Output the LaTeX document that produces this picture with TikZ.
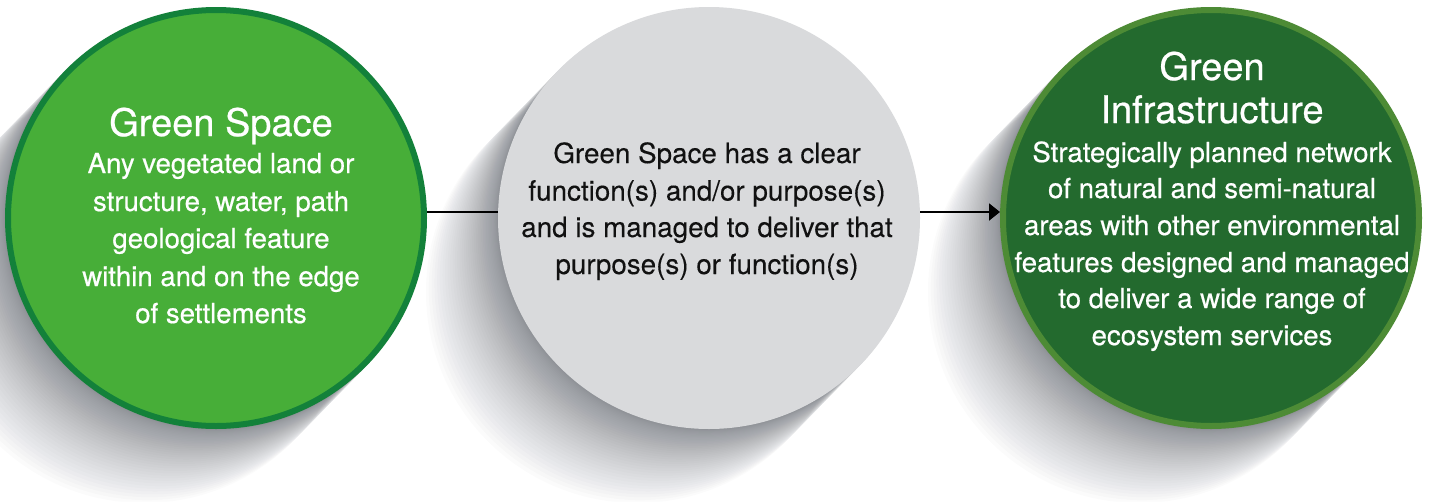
\documentclass[tikz,border=0pt]{standalone}
\usepackage{fontspec}
\setmainfont{TeX Gyre Heros}
\newfontfamily\heavyish{TeX Gyre Heros}[FakeBold=0.6]
\newfontfamily\lightish{TeX Gyre Heros}[FakeBold=0.2]
\usetikzlibrary{arrows.meta}
\definecolor{gsfill}{RGB}{71,174,56}
\definecolor{gsborder}{RGB}{19,129,58}
\definecolor{gifill}{RGB}{35,106,46}
\definecolor{giborder}{RGB}{77,139,53}
\definecolor{midgray}{RGB}{217,218,220}
\definecolor{inktext}{RGB}{17,17,17}
\definecolor{shadowink}{RGB}{40,46,56}
\begin{document}
\begin{tikzpicture}[x=1pt,y=-1pt,
  whitebody/.style={anchor=base, inner sep=0pt, text=white, font=\heavyish\fontsize{27.6}{34}\selectfont},
  whitetitle/.style={anchor=base, inner sep=0pt, text=white, font=\heavyish\fontsize{38}{44}\selectfont},
  darkbody/.style={anchor=base, inner sep=0pt, text=inktext, font=\lightish\fontsize{27.8}{34}\selectfont},
  shadowdisc/.style={fill=shadowink, fill opacity=0.014},
  ringnode/.style={circle, minimum size=416pt, inner sep=0pt, line width=6pt},
  connector/.style={line width=2pt, draw=black}]
\useasboundingbox (0,0) rectangle (1430,501);
\fill[white] (0,0) rectangle (1430,501);
% soft cast shadows, denser near the discs
\foreach \cx in {216,709,1211}{
  \foreach \k in {1,...,40}{
    \pgfmathsetmacro{\f}{(\k/40)^1.6}
    \fill[shadowdisc] ({\cx-72*\f},{218+74*\f}) circle[radius=211pt];
  }
}
% circles
\node[ringnode, fill=gsfill, draw=gsborder] (gs) at (216,218) {};
\node[circle, minimum size=422pt, inner sep=0pt, fill=midgray] (mid) at (709,218) {};
\node[ringnode, fill=gifill, draw=giborder] (gi) at (1211,218) {};
% connectors
\draw[connector] ([yshift=6pt]gs.east) -- ([yshift=6pt]mid.west);
\draw[connector, -{Triangle[length=11pt,width=17pt]}] ([yshift=6pt]mid.east) -- ([yshift=6pt]gi.west);
% left texts
\node[whitetitle] (gsT) at (221,136) {Green Space};
\node[whitebody] (gs1) at (221,173) {Any vegetated land or};
\node[whitebody] (gs2) at (221,211) {structure, water, path};
\node[whitebody] (gs3) at (221,248) {geological feature};
\node[whitebody] (gs4) at (221,286) {within and on the edge};
\node[whitebody] (gs5) at (221,323) {of settlements};
% middle texts
\node[darkbody] (m1) at (707,163) {Green Space has a clear};
\node[darkbody] (m2) at (707,200.5) {function(s) and/or purpose(s)};
\node[darkbody] (m3) at (707,237) {and is managed to deliver that};
\node[darkbody] (m4) at (707,274) {purpose(s) or function(s)};
% right texts
\node[whitetitle] (giT1) at (1212,80) {Green};
\node[whitetitle] (giT2) at (1212,123) {Infrastructure};
\node[whitebody] (gi1) at (1212,162) {Strategically planned network};
\node[whitebody] (gi2) at (1212,198) {of natural and semi-natural};
\node[whitebody] (gi3) at (1212,235) {areas with other environmental};
\node[whitebody] (gi4) at (1212,272) {features designed and managed};
\node[whitebody] (gi5) at (1212,308) {to deliver a wide range of};
\node[whitebody] (gi6) at (1212,345) {ecosystem services};
\end{tikzpicture}
\end{document}
